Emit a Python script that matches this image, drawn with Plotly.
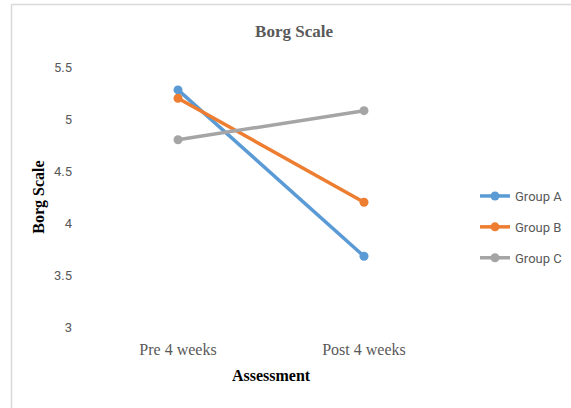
import plotly.graph_objects as go

categories = ["Pre 4 weeks", "Post 4 weeks"]
group_a = [5.28, 3.68]
group_b = [5.2, 4.2]
group_c = [4.8, 5.08]
series_names = ["Group A", "Group B", "Group C"]
series_colors = ["#5B9BD5", "#ED7D31", "#A5A5A5"]
y_ticks = [3, 3.5, 4, 4.5, 5, 5.5]
y_tick_text = ["3", "3.5", "4", "4.5", "5", "5.5"]

fig = go.Figure()
for i, (name, vals, col) in enumerate(zip(series_names, [group_a, group_b, group_c], series_colors)):
    fig.add_trace(go.Scatter(
        x=categories, y=vals, name=name, mode="lines+markers",
        line=dict(color=col, width=3.5),
        marker=dict(color=col, size=9),
        legendgroup=name,
    ))

L, T, W, H = 85, 67, 372, 260
def px_x(p):
    return (p - L) / W
def px_y(p):
    return (T + H - p) / H

border = "#D9D9D9"
fig.add_shape(type="line", xref="paper", yref="paper",
              x0=px_x(11.5), x1=px_x(11.5), y0=px_y(4.5), y1=px_y(420),
              line=dict(color=border, width=1.5))
fig.add_shape(type="line", xref="paper", yref="paper",
              x0=px_x(11.5), x1=px_x(580), y0=px_y(4.5), y1=px_y(4.5),
              line=dict(color=border, width=1.5))

fig.update_layout(
    width=571, height=408,
    margin=dict(l=L, r=571 - L - W, t=T, b=408 - T - H, autoexpand=False),
    paper_bgcolor="white", plot_bgcolor="white",
    title=dict(text="<b>Borg Scale</b>", x=px_x(294), xanchor="center", xref="paper",
               y=1 - 31 / 408, yanchor="middle",
               font=dict(family="Liberation Serif", size=17, color="#595959")),
    xaxis=dict(
        type="category", range=[-0.5, 1.5],
        showgrid=False, zeroline=False, showline=False, ticks="",
        tickfont=dict(family="Liberation Serif", size=16, color="#595959"),
        ticklabelstandoff=11,
        title=dict(text="<b>Assessment</b>", standoff=12,
                   font=dict(family="Liberation Serif", size=16, color="black")),
    ),
    yaxis=dict(
        range=[3, 5.5], tickvals=y_ticks, ticktext=y_tick_text,
        showgrid=False, zeroline=False, showline=False, ticks="",
        tickfont=dict(family="Liberation Sans Narrow, Roboto", size=13, color="#595959"),
        ticklabelstandoff=12,
        title=dict(text="<b>Borg Scale</b>", standoff=5,
                   font=dict(family="Liberation Serif", size=16, color="black")),
    ),
    legend=dict(
        x=px_x(475), xanchor="left", y=px_y(181), yanchor="top",
        font=dict(family="Liberation Sans Narrow, Roboto", size=13, color="#595959"),
        tracegroupgap=11, itemwidth=30, bgcolor="rgba(0,0,0,0)",
    ),
    showlegend=True,
)

fig.write_html("out.html", config={"displayModeBar": False},
               post_script="document.body.style.margin='0';document.body.style.overflow='hidden';")
